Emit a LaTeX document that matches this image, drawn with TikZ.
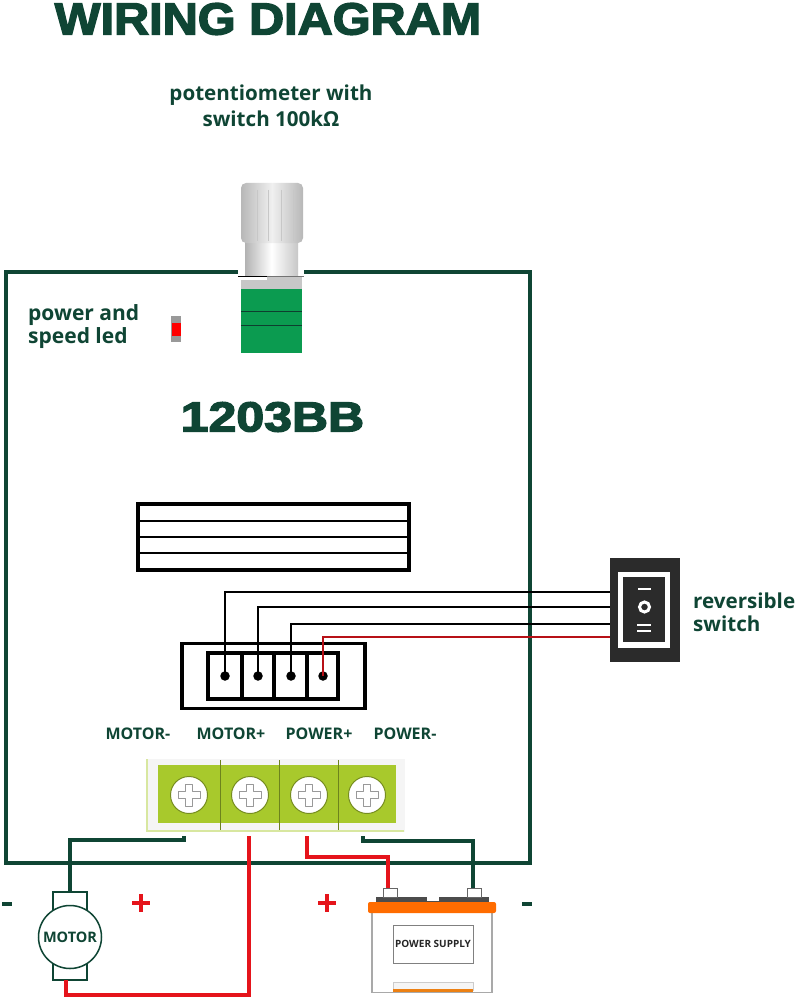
\documentclass[tikz,border=0pt]{standalone}
\usepackage{fontspec}
\setmainfont{Open Sans}
\newfontfamily\heavy[BoldFeatures={FakeBold=3}]{Liberation Sans}
\definecolor{dgreen}{HTML}{0F4534}
\definecolor{wred}{HTML}{E5141B}
\definecolor{lime}{HTML}{A8C92C}
\definecolor{pgreen}{HTML}{0B9B50}
\definecolor{swdark}{HTML}{2B2B2B}
\definecolor{batgray}{HTML}{A9A9A9}
\tikzset{
  txt/.style={inner sep=0pt,text=dgreen,font=\bfseries\fontsize{21}{23}\selectfont,align=left},
  portlabel/.style={inner sep=0pt,text=dgreen,font=\bfseries\fontsize{16}{18}\selectfont},
  bigtxt/.style={inner sep=0pt,text=dgreen},
  darkwire/.style={draw=dgreen,line width=3.2pt},
  redwire/.style={draw=wred,line width=3.2pt},
  thinwire/.style={draw=black,line width=1.3pt},
  thinred/.style={draw=wred!80!black,line width=1.3pt},
  hardline/.style={draw=black,line width=3.4pt},
  midline/.style={draw=black,line width=1.8pt},
  screw/.style={circle,draw=lime!70!black,line width=1pt,fill=white,minimum size=37pt,inner sep=0pt},
  dot/.style={circle,fill=black,minimum size=9.5pt,inner sep=0pt},
  signline/.style={line width=3.4pt},
}
\begin{document}
\begin{tikzpicture}[x=1pt,y=-1pt]
\useasboundingbox (0,0) rectangle (796,1000);
\fill[white] (0,0) rectangle (796,1000);

% title and captions
\node[bigtxt,font=\heavy\bfseries\fontsize{45}{50}\selectfont] (title) at (268,19) {\scalebox{1.08}[1]{WIRING DIAGRAM}};
\node[txt,align=center,font=\bfseries\fontsize{20.6}{26}\selectfont] (potlabel) at (271,106) {potentiometer with\\switch 100kΩ};
\node[txt,anchor=west] (ledlabel) at (28,327) {power and\\speed led};
\node[bigtxt,font=\heavy\bfseries\fontsize{42}{44}\selectfont] (model) at (272.5,417) {\scalebox{1.19}[1]{1203BB}};
\node[txt,anchor=west,font=\bfseries\fontsize{20.6}{23}\selectfont] (revlabel) at (693,612) {reversible\\switch};

% main box with gap for the potentiometer
\draw[dgreen,line width=3.1pt,line join=miter] (238,272) -- (6,272) -- (6,863) -- (530,863) -- (530,272) -- (304,272);

% potentiometer
\shade[left color=black!30,right color=black!22,middle color=white] (245,240) rectangle (298,275);
\shade[left color=black!28,right color=black!28,middle color=black!6,rounded corners=5pt] (241,183) rectangle (303,243);
\foreach \kx in {257,268,281,293}{\draw[black!22,line width=.6pt] (\kx,190) -- (\kx,241);}
\fill[black!22] (241,277) rectangle (302,289);
\fill[white] (241,277.4) rectangle (267,279.5);
\draw[black,line width=1.2pt] (238,276.8) -- (267,276.8);
\draw[black!55,line width=.8pt] (267,276.8) -- (304,276.8);
\fill[pgreen] (241,289) rectangle (302,353);
\draw[dgreen!90!black,line width=.9pt] (241,311) -- (302,311) (241,325) -- (302,325);

% LED
\fill[black!40] (171,316) rectangle (181,342);
\fill[red] (172,323) rectangle (181,336);

% display
\node[draw=black,line width=3.2pt,minimum width=271pt,minimum height=66pt,inner sep=0pt] (display) at (273.5,537) {};
\draw[midline] (display.west|-0,521) -- (display.east|-0,521);
\draw[midline] (display.west|-0,537) -- (display.east|-0,537);
\draw[midline] (display.west|-0,553) -- (display.east|-0,553);

% connector
\node[draw=black,line width=3.4pt,minimum width=183pt,minimum height=65pt,inner sep=0pt] (conn) at (273.5,676) {};
\node[draw=black,line width=3.4pt,minimum width=130pt,minimum height=46pt,inner sep=0pt] (plug) at (273,676) {};
\foreach \dx in {242,274,307}{\draw[hardline] (\dx,653) -- (\dx,699);}
\node[dot] (p1) at (225,676) {};
\node[dot] (p2) at (258,676) {};
\node[dot] (p3) at (291,676) {};
\node[dot] (p4) at (323,676) {};

% rocker switch
\node[fill=swdark,minimum width=70pt,minimum height=104pt,inner sep=0pt] (rocker) at (645,610) {};
\fill[white] (618,572) rectangle (670,648);
\fill[swdark] (623,577) rectangle (665,642);
\draw[white,line width=2pt] (638,589) -- (651,589);
\draw[white,line width=3pt] (644.5,607) circle (5pt);
\draw[white,line width=2pt] (637,625) -- (651,625) (637,631) -- (651,631);
\coordinate (s1) at (rocker.west|-0,592);
\coordinate (s2) at (rocker.west|-0,607);
\coordinate (s3) at (rocker.west|-0,624);
\coordinate (s4) at (rocker.west|-0,637);
\draw[thinwire] (p1.center) |- (s1);
\draw[thinwire] (p2.center) |- (s2);
\draw[thinwire] (p3.center) |- (s3);
\draw[thinred] (p4.center) |- (s4);

% port labels
\node[portlabel] (lm1) at (138,734) {MOTOR-};
\node[portlabel] (lm2) at (231,734) {MOTOR+};
\node[portlabel] (lp1) at (319,734) {POWER+};
\node[portlabel] (lp2) at (405,734) {POWER-};

% terminal block
\fill[black!4] (147,759) rectangle (405,832);
\draw[lime!45!white,line width=1.4pt] (147,759) -- (147,831) -- (404,831);
\node[fill=lime,minimum width=238pt,minimum height=58pt,inner sep=0pt] (block) at (277,794) {};
\foreach \dx in {220,279,338}{\draw[lime!65!black,line width=.8pt] (\dx,760) -- (\dx,830);}
\node[screw] (t1) at (189,795) {};
\node[screw] (t2) at (250,795) {};
\node[screw] (t3) at (309,795) {};
\node[screw] (t4) at (367,795) {};
\foreach \s in {t1,t2,t3,t4}{
  \draw[black!40,line width=.7pt,line join=round] ([shift={(-3.5,-11)}]\s.center) -- ++(7,0) -- ++(0,7.5) -- ++(7.5,0) -- ++(0,7) -- ++(-7.5,0) -- ++(0,7.5) -- ++(-7,0) -- ++(0,-7.5) -- ++(-7.5,0) -- ++(0,-7) -- ++(7.5,0) -- cycle;
}
\coordinate (w1) at (184,836);
\coordinate (w2) at (249,836);
\coordinate (w3) at (307,836);
\coordinate (w4) at (363,836);

% motor
\node[draw=dgreen,line width=1.5pt,minimum width=34pt,minimum height=88pt,inner sep=0pt] (brush) at (70,936) {};
\node[circle,draw=dgreen,line width=1.5pt,fill=white,minimum size=63pt,inner sep=0pt,text=dgreen,font=\bfseries\fontsize{14.5}{18}\selectfont] (motor) at (70,937) {MOTOR};
\coordinate (mb) at (66,980);

% battery
\node[draw=batgray,line width=1.2pt,minimum width=120pt,minimum height=80pt,inner sep=0pt] (batt) at (432,952.5) {};
\fill[black!70] (376,897) rectangle (427,902);
\fill[black!70] (439,897) rectangle (489,902);
\fill[black!70] (427,901) rectangle (439,903);
\fill[orange!85!red,rounded corners=2pt] (368,902) rectangle (496,913);
\node[draw=black!60,line width=.8pt,fill=white,minimum width=14pt,minimum height=9pt,inner sep=0pt] (bpos) at (390,892.5) {};
\node[draw=black!60,line width=.8pt,fill=white,minimum width=14pt,minimum height=9pt,inner sep=0pt] (bneg) at (474.5,892.5) {};
\node[draw=black!50,line width=.9pt,minimum width=80pt,minimum height=38pt,inner sep=0pt,text=black!85,font=\bfseries\fontsize{10}{12}\selectfont] (psu) at (433,944) {POWER SUPPLY};
\fill[black!4] (393,982) rectangle (473,989);
\draw[black!20,line width=.5pt] (393,982) rectangle (473,990);
\fill[orange!70!brown] (393,989) rectangle (473,992);

% power wires
\draw[darkwire] (w1) -- (184,840) -| (brush.north-|motor.center);
\draw[redwire] (w2) |- (66,995) -- (mb);
\draw[redwire] (w3) -- (307,857) -| (388,888);
\draw[darkwire] (w4) -- (363,841) -| (473,888);

% polarity signs
\draw[dgreen,signline] (2,904) -- (12,904);
\draw[wred,signline] (132,903) -- (150,903) (141,894) -- (141,912);
\draw[wred,signline] (318,903) -- (336,903) (327,894) -- (327,912);
\draw[dgreen,signline] (522,904) -- (532,904);
\end{tikzpicture}
\end{document}
